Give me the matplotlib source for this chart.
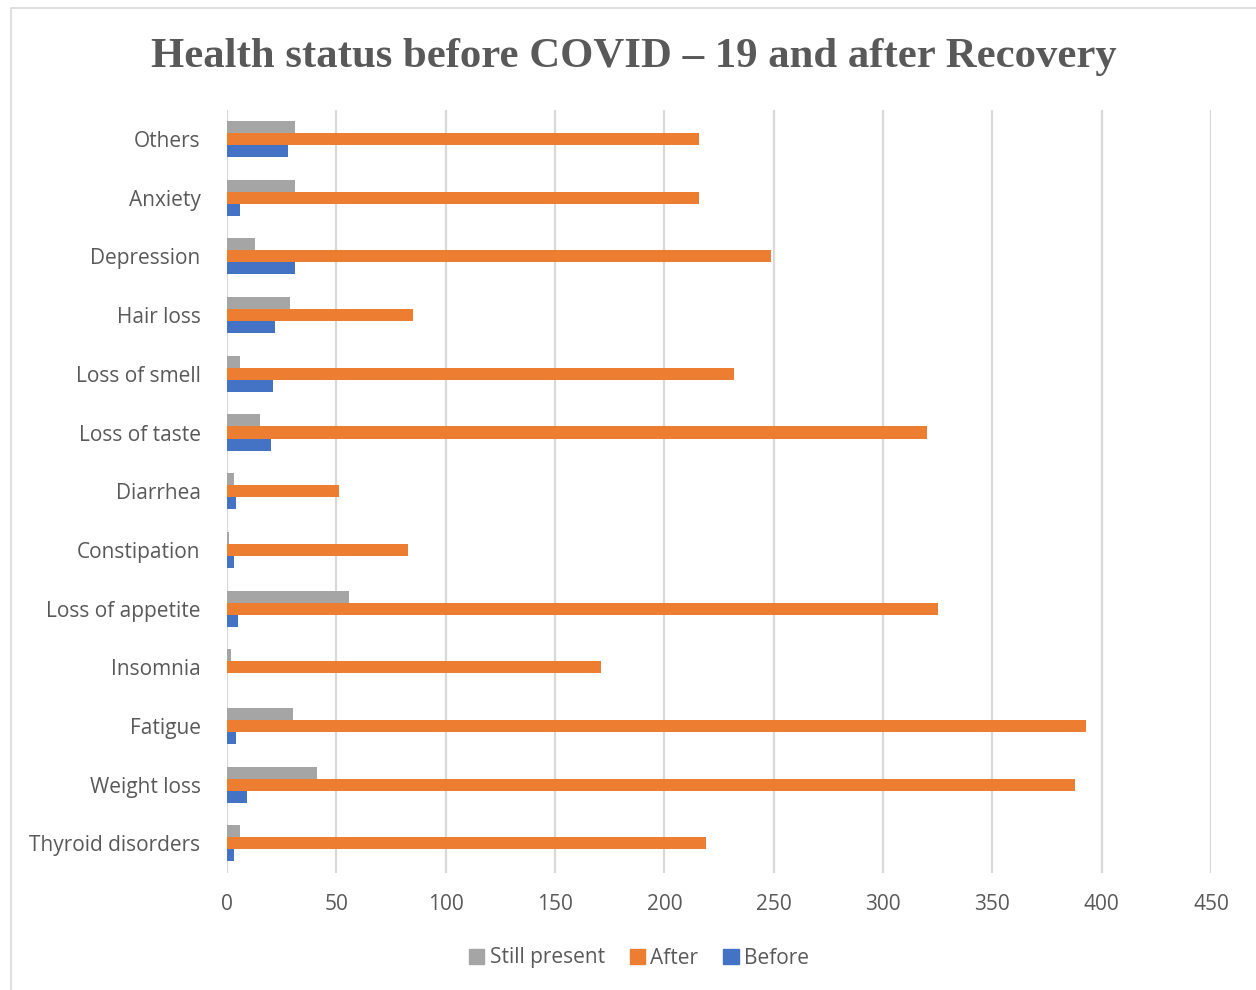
import matplotlib
matplotlib.use("Agg")
import matplotlib.pyplot as plt
from matplotlib.patches import Rectangle, Patch
import numpy as np

categories = ["Thyroid disorders", "Weight loss", "Fatigue", "Insomnia",
              "Loss of appetite", "Constipation", "Diarrhea", "Loss of taste",
              "Loss of smell", "Hair loss", "Depression", "Anxiety", "Others"]
before = [3, 9, 4, 0, 5, 3, 4, 20, 21, 22, 31, 6, 28]
after = [219, 388, 393, 171, 325, 83, 51, 320, 232, 85, 249, 216, 216]
still_present = [6, 41, 30, 2, 56, 1, 3, 15, 6, 29, 13, 31, 31]
x_ticks = [0, 50, 100, 150, 200, 250, 300, 350, 400, 450]

GRAY = "#A5A5A5"
ORANGE = "#ED7D31"
BLUE = "#4472C4"
TEXT = "#595959"
GRID = "#D9D9D9"

W, H = 1256, 990
fig = plt.figure(figsize=(W / 100, H / 100), dpi=100)
fig.patch.set_facecolor("white")

# Chart-area border
fig.add_artist(Rectangle((11 / W, -0.05), 1.2, (H - 8) / H + 0.05,
                         transform=fig.transFigure, fill=False,
                         edgecolor="#D9D9D9", linewidth=1.2))

ax = fig.add_axes([227 / W, 117.3 / H, 984 / W, 763 / H])
y = np.arange(len(categories))
h = 0.205
ax.barh(y - h, before, height=h, color=BLUE, zorder=3)
ax.barh(y, after, height=h, color=ORANGE, zorder=3)
ax.barh(y + h, still_present, height=h, color=GRAY, zorder=3)

ax.set_xlim(0, 450)
ax.set_ylim(-0.5, len(categories) - 0.5)
ax.set_xticks(x_ticks)
ax.set_xticklabels([str(v) for v in x_ticks])
ax.set_yticks(y)
ax.set_yticklabels(categories)
ax.xaxis.grid(True, color=GRID, linewidth=1.6, zorder=0)
ax.tick_params(axis="both", length=0, labelsize=15, labelcolor=TEXT)
ax.tick_params(axis="x", pad=15.5)
ax.tick_params(axis="y", pad=19)
for lab in ax.get_xticklabels() + ax.get_yticklabels():
    lab.set_fontfamily("Open Sans")
for s in ax.spines.values():
    s.set_visible(False)

fig.text(634 / W, 1 - 57 / H, "Health status before COVID \u2013 19 and after Recovery",
         ha="center", va="center", fontsize=30.8, fontweight="bold",
         fontfamily="Liberation Serif", color=TEXT)

handles = [Patch(color=GRAY, label="Still present"),
           Patch(color=ORANGE, label="After"),
           Patch(color=BLUE, label="Before")]
leg = fig.legend(handles=handles, loc="center", bbox_to_anchor=(639 / W, 1 - 958 / H),
                 ncol=3, frameon=False, handlelength=0.75, handleheight=0.75,
                 handletextpad=0.25, columnspacing=1.2,
                 prop={"family": "Open Sans", "size": 15})
for t in leg.get_texts():
    t.set_color(TEXT)

fig.savefig("out.png", dpi=100)
